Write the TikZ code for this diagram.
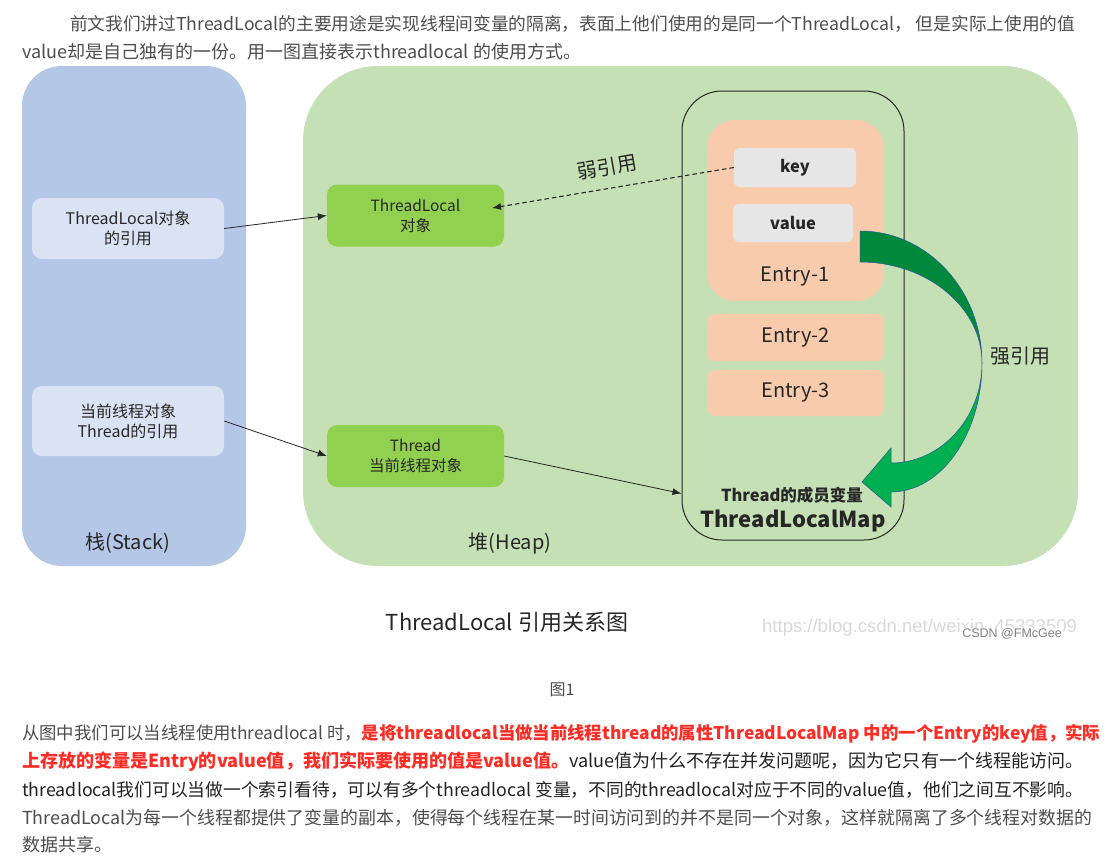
\documentclass[tikz,border=0pt]{standalone}
\usepackage{fontspec}
\usepackage{graphicx}
\setmainfont{Noto Sans CJK SC}
\newfontfamily\urlfont{Liberation Sans}
\usetikzlibrary{arrows.meta,calc}
\definecolor{stackblue}{HTML}{B4C7E7}
\definecolor{refblue}{HTML}{DAE3F3}
\definecolor{heapgreen}{HTML}{C5E0B4}
\definecolor{objgreen}{HTML}{92D050}
\definecolor{entryorange}{HTML}{F8CBAD}
\definecolor{kvgray}{HTML}{E7E6E6}
\definecolor{ink}{HTML}{262626}
\definecolor{bodygray}{HTML}{4D4D4D}
\definecolor{bodydark}{HTML}{222222}
\definecolor{csdnred}{HTML}{FE2C24}
\definecolor{strongdark}{HTML}{00893D}
\definecolor{stronglight}{HTML}{00B050}
\definecolor{strongedge}{HTML}{2F5597}
\begin{document}
\begin{tikzpicture}[x=1pt,y=-1pt,
    every node/.style={inner sep=0pt, text=ink},
    refbox/.style={fill=refblue, rounded corners=10pt, minimum width=192pt, align=center, font=\fontsize{16}{20}\selectfont},
    objbox/.style={fill=objgreen, rounded corners=10pt, minimum width=177pt, minimum height=62pt, align=center, font=\fontsize{15.5}{20}\selectfont},
    entrybox/.style={fill=entryorange, rounded corners=8pt, minimum width=177pt, minimum height=47pt, font=\fontsize{20}{24}\selectfont},
    kvbox/.style={fill=kvgray, rounded corners=6pt, minimum height=39pt, font=\bfseries\fontsize{16.5}{20}\selectfont},
    refarrow/.style={-{Latex[length=9pt,width=7pt]}, line width=0.8pt, draw=black!85},
    body/.style={anchor=west, font=\fontsize{18}{22}\selectfont, text=bodygray}]
    \useasboundingbox[fill=white] (0,0) rectangle (1112,863);

    % text above the figure
    \node[body] (introA) at (70,24) {\resizebox{1005pt}{!}{前文我们讲过ThreadLocal的主要用途是实现线程间变量的隔离，表面上他们使用的是同一个ThreadLocal， 但是实际上使用的值}};
    \node[body] (introB) at (22,52) {value却是自己独有的一份。用一图直接表示threadlocal 的使用方式。};

    % stack and heap
    \node[fill=stackblue, rounded corners=40pt, minimum width=224pt, minimum height=500pt] (stackPanel) at (134,316) {};
    \node[fill=heapgreen, rounded corners=75pt, minimum width=775pt, minimum height=500pt] (heapPanel) at (690.5,316) {};
    \node[font=\fontsize{20}{24}\selectfont] (stackLbl) at (128,543) {栈(Stack)};
    \node[font=\fontsize{20}{24}\selectfont] (heapLbl) at (510,543) {堆(Heap)};

    \node[refbox, minimum height=61pt] (tlRef) at (128,228.5) {ThreadLocal对象\\的引用};
    \node[refbox, minimum height=70pt] (threadRef) at (128,421) {当前线程对象\\Thread的引用};
    \node[objbox] (tlObj) at (415.5,215.5) {ThreadLocal\\对象};
    \node[objbox] (threadObj) at (415.5,456) {Thread\\当前线程对象};

    % ThreadLocalMap
    \node[draw=black!85, line width=1pt, rounded corners=40pt, minimum width=222pt, minimum height=449pt] (mapBox) at (793,315.5) {};
    \node[fill=entryorange, rounded corners=28pt, minimum width=177pt, minimum height=181pt] (entryOne) at (795.5,210.5) {};
    \node[kvbox, minimum width=122pt] (keyBox) at (795,167.5) {key};
    \node[kvbox, minimum width=120pt, minimum height=38pt] (valueBox) at (793,223) {value};
    \node[font=\fontsize{20}{24}\selectfont] (entryOneLbl) at (795,277) {Entry-1};
    \node[entrybox] (entryTwo) at (795.5,337.5) {Entry-2};
    \node[entrybox, minimum height=46pt] (entryThree) at (795.5,393) {Entry-3};
    \node[font=\bfseries\fontsize{16.5}{20}\selectfont] (memberLbl) at (792,495) {Thread的成员变量};
    \node[font=\bfseries\fontsize{22}{26}\selectfont] (mapLbl) at (793,521) {ThreadLocalMap};

    % references
    \coordinate (tlIn) at (492,208);
    \coordinate (mapIn) at ($(mapBox.south west)+(0,-47)$);
    \draw[refarrow] (tlRef.east) -- (tlObj.west);
    \draw[refarrow] (threadRef.east) -- (threadObj.west);
    \draw[refarrow] (threadObj.east) -- (mapIn);
    \draw[refarrow, line width=1.1pt, dash pattern=on 4.5pt off 3pt] (keyBox.west) -- (tlIn);
    \node[rotate=10, font=\fontsize{20}{24}\selectfont] (weakLbl) at (607,167) {弱引用};

    % strong reference arrow
    \fill[strongdark] (860,231) .. controls (927,231) and (982,290) .. (982,363)
        .. controls (982,307) and (927,262) .. (860,262) -- cycle;
    \fill[stronglight] (982,363) .. controls (982,418) and (941,463) .. (891,463)
        -- (891,448) -- (862,482) -- (891,507) -- (891,492)
        .. controls (941,492) and (982,434) .. (982,363) -- cycle;
    \draw[strongedge, line width=0.5pt] (860,231) .. controls (927,231) and (982,290) .. (982,363)
        .. controls (982,307) and (927,262) .. (860,262) -- cycle;
    \draw[strongedge, line width=0.5pt] (982,363) .. controls (982,418) and (941,463) .. (891,463)
        -- (891,448) -- (862,482) -- (891,507) -- (891,492)
        .. controls (941,492) and (982,434) .. (982,363) -- cycle;
    \node[font=\fontsize{20}{24}\selectfont] (strongLbl) at (1020,356) {强引用};

    % caption
    \node[font=\fontsize{22}{26}\selectfont] (caption) at (507,622) {ThreadLocal 引用关系图};
    \node[anchor=west, text=black!15, font=\urlfont\fontsize{18.5}{22}\selectfont] (urlMark) at (762,628) {https://blog.csdn.net/weixin\_45333509};
    \node[anchor=east, fill=white, inner sep=1pt, text=black!50, font=\urlfont\fontsize{12.5}{14}\selectfont] (csdnMark) at (1063,634) {CSDN @FMcGee};
    \node[font=\fontsize{16}{20}\selectfont, text=bodygray] (figNo) at (562,690) {图1};

    % text below the figure
    \node[body] (noteA) at (22,734) {\resizebox{1078pt}{!}{从图中我们可以当线程使用threadlocal 时，{\color{csdnred}\bfseries 是将threadlocal当做当前线程thread的属性ThreadLocalMap 中的一个Entry的key值，实际}}};
    \node[body] (noteB) at (22,762) {\resizebox{1061pt}{!}{{\color{csdnred}\bfseries 上存放的变量是Entry的value值，我们实际要使用的值是value值。}{\color{bodydark}value值为什么不存在并发问题呢，因为它只有一个线程能访问。}}};
    \node[body, text=bodydark] (noteC) at (22,790) {\resizebox{1061pt}{!}{threadlocal我们可以当做一个索引看待，可以有多个threadlocal 变量，不同的threadlocal对应于不同的value值，他们之间互不影响。}};
    \node[body] (noteD) at (22,818) {\resizebox{1070pt}{!}{ThreadLocal为每一个线程都提供了变量的副本，使得每个线程在某一时间访问到的并不是同一个对象，这样就隔离了多个线程对数据的}};
    \node[body] (noteE) at (22,845) {数据共享。};
\end{tikzpicture}
\end{document}
